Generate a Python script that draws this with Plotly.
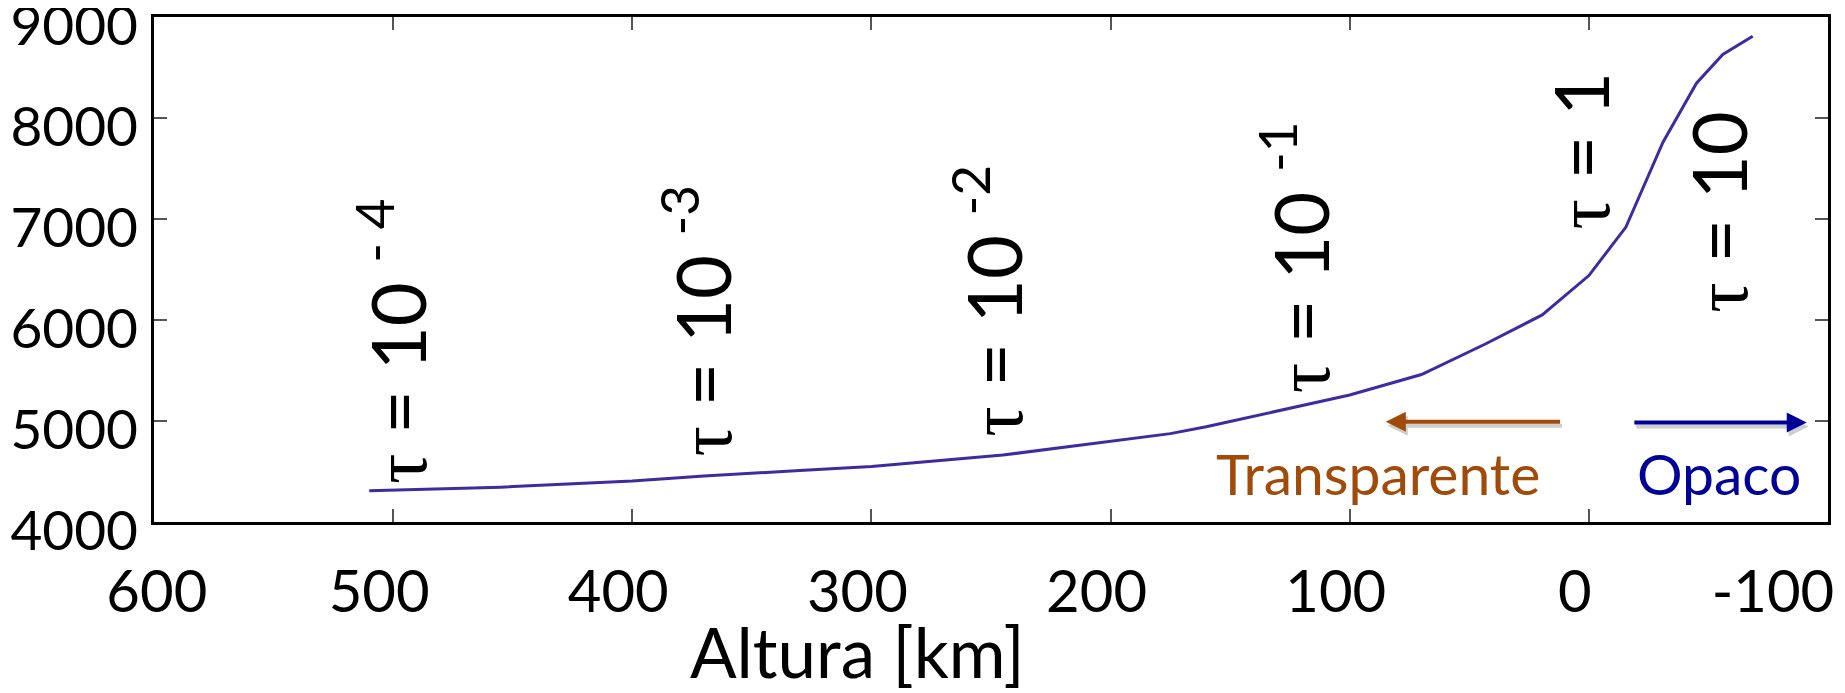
import plotly.graph_objects as go

# ---- data ----
altura = [510, 455, 400, 370, 330, 300, 245, 200, 175, 160, 120, 100, 70, 43.5, 19.5, 0, -15.5, -31, -45, -56, -68.5]
temperatura = [4310, 4345, 4405, 4455, 4510, 4550, 4663, 4795, 4875, 4944, 5150, 5257, 5460, 5760, 6050, 6440, 6920, 7760, 8344, 8630, 8810]

x_tickvals = [600, 500, 400, 300, 200, 100, 0, -100]
x_ticktext = ["\u2007600", "500", "400", "300", "200", "100", "0", "-100\u2007\u2007\u00a0"]
y_tickvals = [4000, 5000, 6000, 7000, 8000, 9000]
y_ticktext = ["4000", "5000", "6000", "7000", "8000", "9000"]

TAU = "<span style=\"font-family:'Liberation Serif'\">τ</span>"
tau_labels = [TAU + " = 10 <sup>- 4</sup>", TAU + " = 10 <sup>-3</sup>", TAU + " = 10 <sup>-2</sup>",
              TAU + " = 10 <sup>-1</sup>", TAU + " = 1", TAU + " = 10"]
tau_x = [501.0, 373.0, 251.3, 123.2, 4.3, -53.5]
tau_y = [4360, 4626, 4824, 5257, 6871, 6049]

FONT = "Lato"
BROWN = "#A04B0A"
BLUE = "#000099"

# the page body has an 8px margin; the figure is sized to fill the window exactly
W, H = 1837, 685

fig = go.Figure()
fig.add_trace(go.Scatter(x=altura, y=temperatura, mode="lines",
                         line=dict(color="rgb(65,42,160)", width=3),
                         showlegend=False))

annotations = []
for t, xv, yv in zip(tau_labels, tau_x, tau_y):
    annotations.append(dict(x=xv, y=yv, xref="x", yref="y", text=t, textangle=-90,
                            showarrow=False, xanchor="center", yanchor="bottom",
                            font=dict(family=FONT, size=76, color="black")))

# arrows with soft shadow
for (x0, x1, yv, col) in [(11.4, 84.9, 4993, BROWN), (-18.4, -91.1, 4985, BLUE)]:
    annotations.append(dict(x=x1 - 0.8, y=yv - 40, ax=x0 - 0.8, ay=yv - 40, xref="x", yref="y",
                            axref="x", ayref="y", text="", showarrow=True,
                            arrowhead=2, arrowsize=1, arrowwidth=4, arrowcolor="rgba(195,195,195,0.8)"))
    annotations.append(dict(x=x1, y=yv, ax=x0, ay=yv, xref="x", yref="y",
                            axref="x", ayref="y", text="", showarrow=True,
                            arrowhead=2, arrowsize=1, arrowwidth=4, arrowcolor=col))

annotations.append(dict(x=88.3, y=4485, xref="x", yref="y", text="Transparente",
                        showarrow=False, xanchor="center", yanchor="middle",
                        font=dict(family=FONT, size=57, color=BROWN)))
annotations.append(dict(x=-54.4, y=4485, xref="x", yref="y", text="Opaco",
                        showarrow=False, xanchor="center", yanchor="middle",
                        font=dict(family=FONT, size=57, color=BLUE)))
annotations.append(dict(x=0.420, y=-0.257, xref="paper", yref="paper", text="Altura [km]",
                        showarrow=False, xanchor="center", yanchor="middle",
                        font=dict(family=FONT, size=69, color="black")))

fig.update_layout(
    width=W, height=H,
    margin=dict(l=146, r=17, t=9, b=171, autoexpand=False),
    paper_bgcolor="white", plot_bgcolor="white",
    annotations=annotations,
    font=dict(family=FONT, color="black"),
)
fig.update_xaxes(range=[600, -100], tickvals=x_tickvals, ticktext=x_ticktext,
                 showgrid=False, zeroline=False, showline=True, linecolor="black", linewidth=3,
                 mirror="ticks", ticks="inside", ticklen=13, tickwidth=1.5, tickcolor="#555",
                 tickfont=dict(family=FONT, size=58, color="black"),
                 ticklabelstandoff=17, ticklabelshift=14, ticklabeloverflow="allow",
                 automargin=False)
fig.update_yaxes(range=[4000, 9000], tickvals=y_tickvals, ticktext=y_ticktext,
                 showgrid=False, zeroline=False, showline=True, linecolor="black", linewidth=3,
                 mirror="ticks", ticks="inside", ticklen=13, tickwidth=1.5, tickcolor="#555",
                 tickfont=dict(family=FONT, size=55, color="black"),
                 ticklabelstandoff=2, ticklabelshift=9, ticklabeloverflow="allow",
                 automargin=False)

fig.write_html("out.html")
